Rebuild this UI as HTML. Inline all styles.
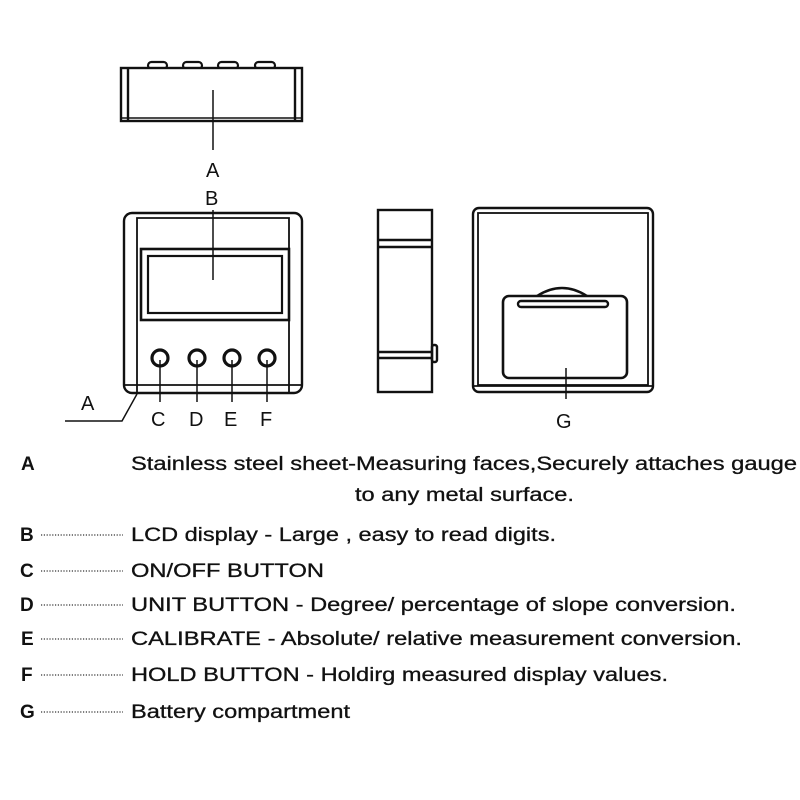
<!DOCTYPE html>
<html><head><style>html,body{margin:0;padding:0;background:#fff}svg{display:block}</style></head>
<body>
<svg width="800" height="800" viewBox="0 0 800 800" xmlns="http://www.w3.org/2000/svg" font-family="Liberation Sans, Arial, sans-serif">
<g fill="none" stroke="#111" stroke-width="2.4">
<!-- top view -->
<g stroke-width="2.2"><rect x="148" y="62" width="19" height="7" rx="3.5"/><rect x="183" y="62" width="19" height="7" rx="3.5"/><rect x="218" y="62" width="20" height="7" rx="3.5"/><rect x="255" y="62" width="20" height="7" rx="3.5"/></g>
<rect x="121" y="68" width="181" height="53" fill="#fff"/>
<line x1="128" y1="68" x2="128" y2="121"/><line x1="295" y1="68" x2="295" y2="121"/>
<line x1="121" y1="118" x2="302" y2="118" stroke-width="1.5"/>
<line x1="213" y1="90" x2="213" y2="150" stroke-width="1.5"/>
<!-- front view -->
<rect x="124" y="213" width="178" height="180" rx="8"/>
<path d="M137 393 V218 H289 V393" stroke-width="1.8"/>
<line x1="124" y1="385" x2="302" y2="385" stroke-width="1.8"/>
<rect x="141" y="249" width="148" height="71" stroke-width="2.6"/>
<rect x="148" y="256" width="134" height="57" stroke-width="2.2"/>
<line x1="213" y1="210" x2="213" y2="280" stroke-width="1.5"/>
<g stroke-width="3.2"><circle cx="160" cy="358" r="8"/><circle cx="197" cy="358" r="8"/><circle cx="232" cy="358" r="8"/><circle cx="267" cy="358" r="8"/></g>
<g stroke-width="1.5"><line x1="160" y1="360" x2="160" y2="402"/><line x1="197" y1="360" x2="197" y2="402"/><line x1="232" y1="360" x2="232" y2="402"/><line x1="267" y1="360" x2="267" y2="402"/>
<polyline points="65,421 122,421 137,394"/></g>
<!-- side view -->
<rect x="378" y="210" width="54" height="182"/>
<line x1="378" y1="240" x2="432" y2="240"/><line x1="378" y1="247" x2="432" y2="247"/>
<line x1="378" y1="352" x2="432" y2="352"/><line x1="378" y1="358" x2="432" y2="358"/>
<rect x="432" y="345" width="5" height="17" rx="2"/>
<!-- back view -->
<rect x="473" y="208" width="180" height="184" rx="6"/>
<rect x="478" y="213" width="170" height="172" stroke-width="1.8"/>
<line x1="473" y1="386" x2="653" y2="386" stroke-width="1.8"/>
<path d="M537 296 Q562 280 587 296"/>
<rect x="503" y="296" width="124" height="82" rx="6" stroke-width="2.6"/>
<rect x="518" y="301" width="90" height="6" rx="3"/>
<line x1="566" y1="368" x2="566" y2="399" stroke-width="1.5"/>
</g>
<g font-size="20" fill="#111">
<text x="206" y="177">A</text><text x="205" y="205">B</text>
<text x="151" y="426">C</text><text x="189" y="426">D</text><text x="224" y="426">E</text><text x="260" y="426">F</text>
<text x="81" y="410">A</text><text x="556" y="428">G</text>
</g>
<g font-size="19" fill="#111">
<g font-weight="bold">
<text x="21" y="470">A</text><text x="20" y="541">B</text><text x="20" y="577">C</text><text x="20" y="611">D</text><text x="21" y="645">E</text><text x="21" y="681">F</text><text x="20" y="718">G</text>
</g>
<g stroke="#333" stroke-width="1.3" stroke-dasharray="1.2 1.6">
<line x1="41" y1="535" x2="123" y2="535"/><line x1="41" y1="571" x2="123" y2="571"/><line x1="41" y1="605" x2="123" y2="605"/><line x1="41" y1="639" x2="123" y2="639"/><line x1="41" y1="675" x2="123" y2="675"/><line x1="41" y1="712" x2="123" y2="712"/>
</g>
<g stroke="#111" stroke-width="0.3">
<text x="131" y="470" textLength="666" lengthAdjust="spacingAndGlyphs">Stainless steel sheet-Measuring faces,Securely attaches gauge</text>
<text x="355" y="501" textLength="219" lengthAdjust="spacingAndGlyphs">to any metal surface.</text>
<text x="131" y="541" textLength="425" lengthAdjust="spacingAndGlyphs">LCD display - Large , easy to read digits.</text>
<text x="131" y="577" textLength="193" lengthAdjust="spacingAndGlyphs">ON/OFF BUTTON</text>
<text x="131" y="611" textLength="605" lengthAdjust="spacingAndGlyphs">UNIT BUTTON - Degree/ percentage of slope conversion.</text>
<text x="131" y="645" textLength="611" lengthAdjust="spacingAndGlyphs">CALIBRATE - Absolute/ relative measurement conversion.</text>
<text x="131" y="681" textLength="537" lengthAdjust="spacingAndGlyphs">HOLD BUTTON - Holdirg measured display values.</text>
<text x="131" y="718" textLength="219" lengthAdjust="spacingAndGlyphs">Battery compartment</text>
</g>
</g>
</svg>
</body></html>
